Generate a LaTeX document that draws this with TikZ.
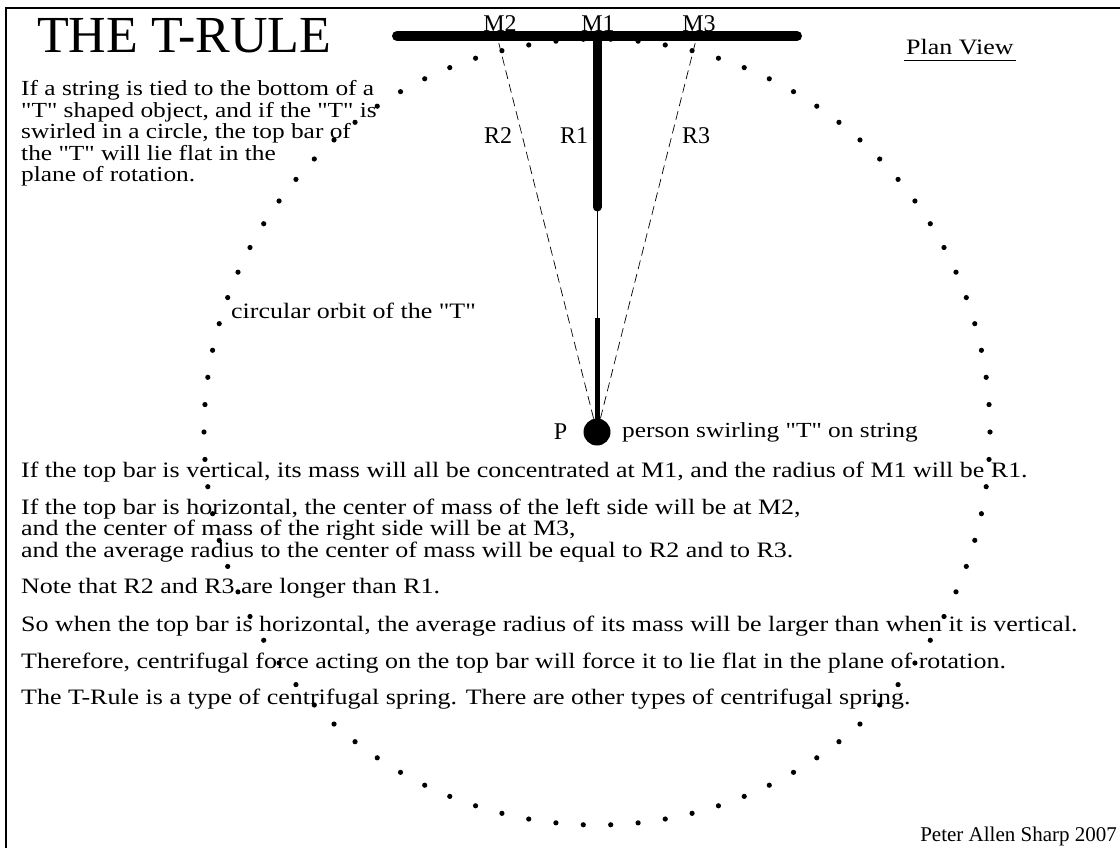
\documentclass[tikz,border=0pt]{standalone}
\usepackage{fontspec}
\setmainfont{Liberation Serif}[Ligatures=TeXOff,FakeStretch=1.18]
\newfontfamily\titlefont{Liberation Serif}[Ligatures=TeXOff]
\usetikzlibrary{positioning,calc}

\tikzset{
  txt/.style={anchor=base west,inner sep=0pt,align=left,
    font=\fontsize{22}{21.5}\selectfont},
  lbl/.style={inner sep=0pt,font=\titlefont\fontsize{24}{24}\selectfont},
  topbar/.style={line width=10pt,line cap=round},
  radius line/.style={dash pattern=on 9pt off 5pt,line width=0.7pt},
}

\begin{document}
\begin{tikzpicture}[x=1pt,y=-1pt]
  \useasboundingbox (0,0) rectangle (1120,848);
  \draw[line width=1.2pt] (6,848) -- (6,8) -- (1120,8);

  % the orbit
  \foreach \a in {0,4,...,356}
    \fill ($(597,432)+(\a:393)$) circle (2.6);

  % the T and the string
  \coordinate (m2) at (497,36);
  \coordinate (m1) at (597,36);
  \coordinate (m3) at (697,36);
  \coordinate (stemend) at (597,207);
  \coordinate (handle) at (597,318);
  \node[circle,fill=black,minimum size=27pt,inner sep=0pt] (p) at (597,432) {};
  \node[lbl,anchor=base] (mtwo) at (500,32) {M2};
  \node[lbl,anchor=base] (mone) at (598,32) {M1};
  \node[lbl,anchor=base] (mthree) at (699,32) {M3};
  \draw[radius line] (p.center) -- (m2);
  \draw[radius line] (p.center) -- (m3);
  \draw[line width=0.8pt] (stemend) -- (handle);
  \draw[line width=5pt] (handle) -- (p.center);
  \draw[line width=9pt,line cap=round] (m1) -- (stemend);
  \draw[topbar] (397,36) -- (797,36);

  \node[lbl] (rtwo) at (498,136) {R2};
  \node[lbl] (rone) at (574,136) {R1};
  \node[lbl] (rthree) at (696,136) {R3};

  % texts
  \node[inner sep=0pt,anchor=base west,font=\titlefont\fontsize{52}{52}\selectfont]
    (title) at (37,53) {THE T-RULE};
  \node[txt,font=\fontsize{21.5}{21.5}\selectfont] (intro) at (21,182) {If a string is tied to the bottom of a\\
    "T" shaped object, and if the "T" is\\
    swirled in a circle, the top bar of\\
    the "T" will lie flat in the\\
    plane of rotation.};
  \node[txt] (planview) at (906,55) {Plan View};
  \draw[line width=1pt] ($(planview.south west)+(-2,5)$) -- ($(planview.south east)+(2,5)$);
  \node[txt] (orbit) at (231,318) {circular orbit of the "T"};
  \node[lbl,left=16pt of p] (plabel) {P};
  \node[txt,anchor=west,font=\fontsize{21.5}{22}\selectfont] (swirl) at (622,432) {person swirling "T" on string};

  \node[txt] (vert) at (21,477) {If the top bar is vertical, its mass will all be concentrated at M1, and the radius of M1 will be R1.};
  \node[txt] (horiz) at (21,557) {If the top bar is horizontal, the center of mass of the left side will be at M2,\\
    and the center of mass of the right side will be at M3,\\
    and the average radius to the center of mass will be equal to R2 and to R3.};
  \node[txt] (longer) at (21,593) {Note that R2 and R3 are longer than R1.};
  \node[txt] (larger) at (21,631) {So when the top bar is horizontal, the average radius of its mass will be larger than when it is vertical.};
  \node[txt] (therefore) at (21,668) {Therefore, centrifugal force acting on the top bar will force it to lie flat in the plane of rotation.};
  \node[txt] (spring) at (21,704) {The T-Rule is a type of centrifugal spring. There are other types of centrifugal spring.};
  \node[inner sep=0pt,anchor=base east,font=\titlefont\fontsize{21}{21}\selectfont]
    (author) at (1117,841) {Peter Allen Sharp 2007};
\end{tikzpicture}
\end{document}
